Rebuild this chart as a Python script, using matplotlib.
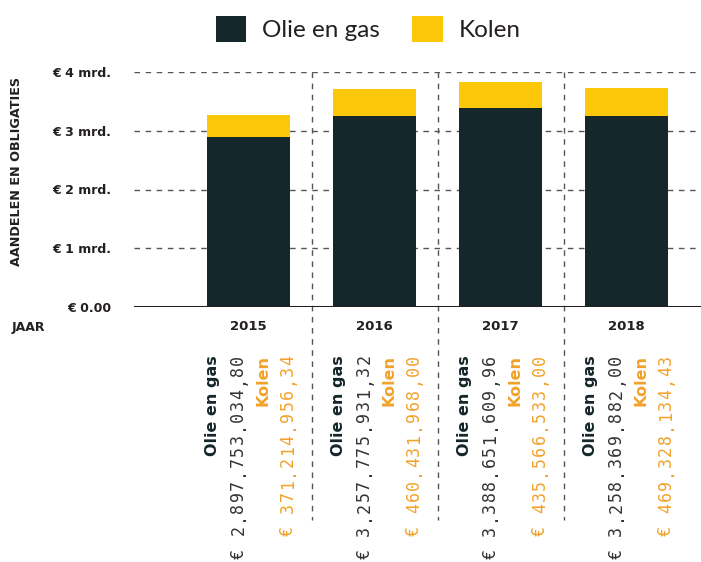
import matplotlib
matplotlib.use("Agg")
import matplotlib.pyplot as plt
import matplotlib.transforms as mtransforms
from matplotlib.patches import Patch
from matplotlib.ft2font import FT2Font
from matplotlib.font_manager import findfont, FontProperties

years = ["2015", "2016", "2017", "2018"]
olie_en_gas = [2897753034.80, 3257775931.32, 3388651609.96, 3258369882.00]
kolen = [371214956.34, 460431968.00, 435566533.00, 469328134.43]
y_ticks = [0, 1, 2, 3, 4]
y_tick_labels = ["€ 0.00", "€ 1 mrd.", "€ 2 mrd.", "€ 3 mrd.", "€ 4 mrd."]
series_names = ["Olie en gas", "Kolen"]

DARK = "#15272b"
YELLOW = "#fec80a"
ORANGE = "#f2a22a"
TXT = "#231f20"
GRID = "#555555"
BOLD_FONT = "DejaVu Sans"
MONO = "DejaVu Sans Mono"
MONO_SIZE = 12


def eu(v):
    s = f"{v:,.2f}"
    s = s.replace(",", "X").replace(".", ",").replace("X", ".")
    return "€ " + s


fig = plt.figure(figsize=(7.01, 5.62), dpi=100)
ax = fig.add_axes([134 / 701, 255 / 562, 1 - 134 / 701, 235 / 562])

x = list(range(len(years)))
og = [v / 1e9 for v in olie_en_gas]
ko = [v / 1e9 for v in kolen]
ax.bar(x, og, width=0.66, color=DARK, zorder=3)
ax.bar(x, ko, bottom=og, width=0.66, color=YELLOW, zorder=3)

ax.set_xlim(-0.91, 3.59)
ax.set_ylim(0, 4)

for t in y_ticks[1:]:
    ax.axhline(t, color=GRID, lw=1, ls=(0, (4, 4)), zorder=1)
ax.axhline(0, color=TXT, lw=2.2, zorder=4)

trans = mtransforms.blended_transform_factory(ax.transData, ax.transAxes)
for xv in [0.5, 1.5, 2.5]:
    ax.plot([xv, xv], [1.0, -0.906], transform=trans, color=GRID, lw=1,
            ls=(0, (4, 4)), clip_on=False, zorder=1)

for s in ax.spines.values():
    s.set_visible(False)

ax.set_yticks(y_ticks)
ax.set_yticklabels(y_tick_labels, fontfamily=BOLD_FONT, fontweight="bold",
                   fontsize=9, color=TXT)
ax.tick_params(axis="y", length=0, pad=16.5)
ax.set_xticks(x)
ax.set_xticklabels(years, fontfamily=BOLD_FONT, fontweight="bold",
                   fontsize=9.5, color=TXT)
ax.tick_params(axis="x", length=0, pad=9.5)

fig.text(12 / 701, 1 - 327 / 562, "JAAR", fontfamily=BOLD_FONT,
         fontweight="bold", fontsize=9, color=TXT, ha="left", va="center")
fig.text(17 / 701, 1 - 172 / 562, "AANDELEN EN OBLIGATIES", rotation=90,
         fontfamily=BOLD_FONT, fontweight="bold", fontsize=9.2, color=TXT,
         ha="center", va="center")

top = -0.204
PITCH_PX = 11.4
BASE_SHIFT_PX = 6.0

_ft = FT2Font(findfont(FontProperties(family=MONO)))
_ft.set_size(MONO_SIZE, 100)


def _bearing_px(ch):
    try:
        g = _ft.load_char(ord(ch))
        return g.horiBearingX / 64.0
    except Exception:
        return 0.0


def spaced_vertical(xd, text, color):
    n = len(text)
    for k, ch in enumerate(text):
        if ch == " ":
            continue
        start_px = (n - k) * PITCH_PX - (PITCH_PX - 10.0) / 2
        off_px = start_px - _bearing_px(ch)
        tr = mtransforms.offset_copy(trans, fig=fig, x=BASE_SHIFT_PX * 0.72,
                                     y=-off_px * 0.72, units="points")
        ax.text(xd, top, ch, transform=tr, rotation=90, rotation_mode="anchor",
                ha="left", va="baseline", fontfamily=MONO,
                fontsize=MONO_SIZE, color=color, clip_on=False)


for i in x:
    ax.text(i - 0.285, top, series_names[0], transform=trans, rotation=90,
            ha="center", va="top", fontfamily=BOLD_FONT, fontweight="bold",
            fontsize=11.5, color=DARK)
    spaced_vertical(i - 0.09, eu(olie_en_gas[i]), "#333333")
    ax.text(i + 0.11, top, series_names[1], transform=trans, rotation=90,
            ha="center", va="top", fontfamily=BOLD_FONT, fontweight="bold",
            fontsize=11.5, color=ORANGE)
    spaced_vertical(i + 0.305, eu(kolen[i]), ORANGE)

handles = [Patch(facecolor=DARK), Patch(facecolor=YELLOW)]
fig.legend(handles, series_names, loc="center", ncol=2,
           bbox_to_anchor=(368 / 701, 1 - 29 / 562), frameon=False,
           prop={"family": "Lato", "size": 17.5}, handlelength=1.25,
           handleheight=1.25, handletextpad=0.64, columnspacing=1.36,
           labelcolor=TXT)

fig.savefig("out.png", dpi=100)
